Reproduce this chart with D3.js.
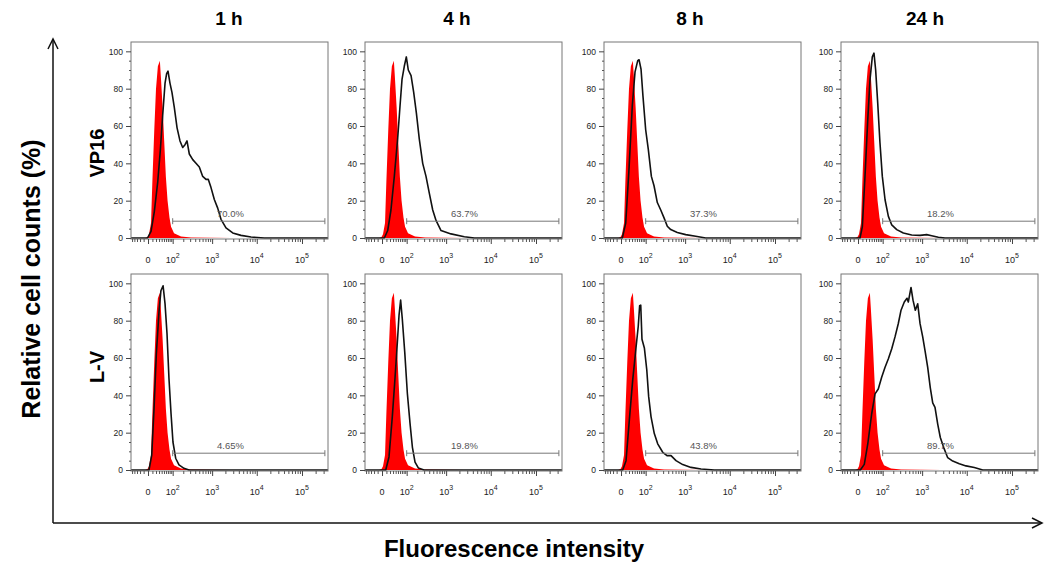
<!DOCTYPE html>
<html>
<head>
<meta charset="utf-8">
<script src="https://d3js.org/d3.v7.min.js"></script>
<style>
body { margin: 0; background: #fff; }
svg { font-family: Arial, "Liberation Sans", sans-serif; }
</style>
</head>
<body>
<svg id="drawing_region"></svg>
<script>
// ---- data (x = fluorescence intensity, y = % of max) ----
const times = ['1 h', '4 h', '8 h', '24 h'];
const rows = ['VP16', 'L-V'];
const gateLabels = ['70.0%', '63.7%', '37.3%', '18.2%', '4.65%', '19.8%', '43.8%', '89.7%'];

// untreated control (red filled)
const controlFI  = [-6, -1, 2, 6.6, 10, 15, 20, 26, 33, 37, 44, 51, 59, 68, 79, 89, 110, 174, 316, 942, 2700];
const controlPct = [0, 0.5, 2, 8, 31, 58, 80, 92, 95, 86, 70, 52, 33, 20, 11, 6, 2.5, 0.8, 0.3, 0.2, 0];

const vp16_1h_FI  = [-1, 6.6, 15, 25.5, 34.7, 44.4, 55, 63, 70.5, 82, 95, 112, 135, 163, 193, 222, 250, 286, 348, 418, 502, 604, 722, 817, 942, 1122, 1340, 1592, 2064, 2920, 4473, 7460, 14700];
const vp16_1h_Pct = [0, 3.6, 14, 30, 47, 66, 83, 88, 89.4, 83, 78, 70, 59, 52, 48.5, 50, 52, 45, 42, 40, 38, 33, 31.4, 31.4, 27, 20.6, 16, 10, 5.4, 2.7, 1.4, 0.5, 0];

const vp16_4h_FI  = [5, 13.4, 23, 34.7, 49, 60, 70.5, 84, 97.5, 112, 135, 160, 189, 226, 276, 334, 402, 486, 582, 762, 1292, 2580, 4310];
const vp16_4h_Pct = [0, 4, 15, 33, 54, 71, 85, 92, 97, 90, 87, 78, 67, 53, 40, 33, 24, 15, 9.4, 4, 2.2, 0.7, 0];

const vp16_8h_FI  = [2.7, 10.8, 20, 31, 41.5, 53.5, 60, 70.5, 82, 100, 120, 147, 174, 213, 261, 316, 380, 460, 659, 1031, 1740, 2920];
const vp16_8h_Pct = [0, 8, 37, 71, 89, 95, 95.5, 90.5, 76, 58, 47.5, 33, 28, 19, 15, 10.8, 6.3, 4.5, 3, 1.8, 0.9, 0];

const vp16_24h_FI  = [4.2, 9.8, 17, 25.5, 33.6, 42.7, 50, 58, 69, 82, 97.5, 118, 147, 182, 246, 360, 572, 894, 1272, 1652, 2330, 3290];
const vp16_24h_Pct = [0, 6, 33, 63, 85, 97, 99, 90, 72, 51, 33, 20.5, 11.6, 7, 4.5, 2.7, 1.6, 1.4, 1.8, 1.2, 0.4, 0];

const lv_1h_FI  = [2, 8.3, 14.3, 21, 30, 37, 46, 55, 65, 76, 89, 102, 123, 153, 209, 281];
const lv_1h_Pct = [0, 8, 33, 62, 85, 96, 98.7, 89, 73, 49, 30, 15, 6.3, 2.7, 0.9, 0];

const lv_4h_FI  = [8.3, 17, 27.5, 37, 47, 55, 63, 72, 87, 105, 126, 147, 174, 213, 298];
const lv_4h_Pct = [0, 7, 28.6, 48.5, 68, 83, 91, 81, 63, 41, 25, 12.3, 4.2, 1.1, 0];

const lv_8h_FI  = [3.6, 11.6, 21, 32.5, 46, 56, 63, 69, 76, 91, 108, 123, 144, 177, 218, 293, 374, 468, 614, 880, 1362, 2292, 4540];
const lv_8h_Pct = [0, 5, 26.7, 48.3, 66, 77, 88, 88.3, 70, 65.4, 53.7, 39.3, 28.5, 19.5, 14, 9.5, 7.7, 7.7, 5, 2.9, 1.4, 0.5, 0];

const lv_24h_FI  = [5, 15, 25.5, 40, 55, 72, 93, 118, 147, 182, 222, 270, 316, 380, 442, 475, 551, 614, 696, 791, 894, 1031, 1164, 1340, 1535, 1740, 1960, 2255, 2580, 3075, 3775, 4880, 6835, 9630, 14700, 22550];
const lv_24h_Pct = [0, 3, 13.8, 30, 40.8, 43.4, 49.7, 55, 59.6, 65, 71.3, 78.5, 85.6, 90, 92, 90, 97.8, 91, 85.6, 89, 78.5, 71.3, 64, 55, 44, 36, 33.6, 24.6, 17.4, 12, 6.6, 4.8, 3.4, 2.2, 1.3, 0];

const sampleFI  = [vp16_1h_FI, vp16_4h_FI, vp16_8h_FI, vp16_24h_FI, lv_1h_FI, lv_4h_FI, lv_8h_FI, lv_24h_FI];
const samplePct = [vp16_1h_Pct, vp16_4h_Pct, vp16_8h_Pct, vp16_24h_Pct, lv_1h_Pct, lv_4h_Pct, lv_8h_Pct, lv_24h_Pct];

const xMajor = [0, 100, 1000, 10000, 100000];
const yMajor = [0, 20, 40, 60, 80, 100];

// ---- layout ----
const W = 1046, H = 566;
const colLeft = [131, 365, 604, 841];
const rowTop = [42, 274];
const rowLabelY = [153, 367];
const titleX = [229, 457, 690, 925];
const panelW = 197, panelH = 197;

const svg = d3.select('#drawing_region').attr('width', W).attr('height', H);

class FlowPanel {
    constructor( config, control, sample, gate ) {
        this.config = config;
        this.control = control;
        this.sample = sample;
        this.gate = gate;
        this.init();
    }

    init() {
        let self = this;
        self.g = svg.append('g')
            .attr('transform', `translate(${self.config.left}, ${self.config.top})`);

        self.xscale = d3.scaleSymlog().constant(40)
            .domain([-55, 375000]).range([0, panelW]);
        self.yscale = d3.scaleLinear()
            .domain([0, 105]).range([panelH - 1, 0]);

        self.g.append('clipPath').attr('id', 'clip' + self.config.id)
            .append('rect').attr('width', panelW).attr('height', panelH);
        self.plot = self.g.append('g').attr('clip-path', `url(#clip${self.config.id})`);
    }

    render() {
        let self = this;
        const x = self.xscale, y = self.yscale;
        const d0 = x.domain();

        // red control
        self.plot.append('path')
            .datum(self.control)
            .attr('fill', '#ff0000')
            .attr('d', d3.area().x(d => x(d[0])).y0(y(0)).y1(d => y(d[1])));

        // black sample line, resting on the baseline across the whole range
        const pts = [[d0[0], 0]].concat(self.sample, [[d0[1], 0]]);
        self.plot.append('path')
            .datum(pts)
            .attr('fill', 'none')
            .attr('stroke', '#111')
            .attr('stroke-width', 1.6)
            .attr('stroke-linejoin', 'round')
            .attr('d', d3.line().x(d => x(d[0])).y(d => y(d[1])));

        // frame
        self.g.append('rect')
            .attr('width', panelW).attr('height', panelH)
            .attr('fill', 'none').attr('stroke', '#777').attr('stroke-width', 1);

        // y axis
        const yMinor = d3.range(0, 101, 5).filter(v => v % 20 !== 0);
        self.g.append('g').call(d3.axisLeft(y).tickValues(yMinor).tickSize(2).tickFormat(''))
            .call(g => g.select('.domain').remove())
            .selectAll('line').attr('stroke', '#555');
        const ya = self.g.append('g').call(d3.axisLeft(y).tickValues(yMajor).tickSize(5).tickPadding(3))
            .call(g => g.select('.domain').remove());
        ya.selectAll('line').attr('stroke', '#444');
        ya.selectAll('text').attr('font-size', 8.5).attr('fill', '#222')
            .attr('font-family', 'Arial, "Liberation Sans", sans-serif');

        // x axis (biexponential display)
        let xMinor = [-50, -40, -30, -20, -10];
        for (let v = 10; v < 100; v += 10) xMinor.push(v);
        [100, 1000, 10000, 100000].forEach(dec => {
            for (let m = 2; m <= 9; m++) if (dec * m < d0[1]) xMinor.push(dec * m);
        });
        self.g.append('g').attr('transform', `translate(0, ${panelH})`)
            .call(d3.axisBottom(x).tickValues(xMinor).tickSize(3).tickFormat(''))
            .call(g => g.select('.domain').remove())
            .selectAll('line').attr('stroke', '#555');
        self.g.append('g').attr('transform', `translate(0, ${panelH})`)
            .call(d3.axisBottom(x).tickValues(xMajor).tickSize(5).tickFormat(''))
            .call(g => g.select('.domain').remove())
            .selectAll('line').attr('stroke', '#444');

        const lab = self.g.selectAll('.xlab').data(xMajor).enter()
            .append('text')
            .attr('class', 'xlab')
            .attr('x', d => x(d))
            .attr('y', panelH + 24)
            .attr('text-anchor', 'middle')
            .attr('font-size', 9)
            .attr('fill', '#222');
        lab.append('tspan').text(d => d === 0 ? '0' : '10');
        lab.filter(d => d > 0).append('tspan')
            .attr('dy', -5).attr('font-size', 7)
            .text(d => Math.round(Math.log10(d)));

        // gate bar
        const gy = y(9), gx1 = x(100), gx2 = x(320000);
        const gate = self.g.append('g').attr('stroke', '#777').attr('stroke-width', 1);
        gate.append('line').attr('x1', gx1).attr('x2', gx2).attr('y1', gy).attr('y2', gy);
        gate.append('line').attr('x1', gx1).attr('x2', gx1).attr('y1', gy - 3).attr('y2', gy + 3);
        gate.append('line').attr('x1', gx2).attr('x2', gx2).attr('y1', gy - 3).attr('y2', gy + 3);
        self.g.append('text')
            .attr('x', x(2600)).attr('y', gy - 4)
            .attr('text-anchor', 'middle')
            .attr('font-size', 9.5).attr('fill', '#555')
            .text(self.gate);
    }
}

const controlPts = controlFI.map((v, i) => [v, controlPct[i]]);

rows.forEach((r, ri) => {
    times.forEach((t, ci) => {
        const k = ri * 4 + ci;
        const pts = sampleFI[k].map((v, i) => [v, samplePct[k][i]]);
        const p = new FlowPanel({ id: k, left: colLeft[ci], top: rowTop[ri] }, controlPts, pts, gateLabels[k]);
        p.render();
    });
});

// column titles
svg.selectAll('.title').data(times).enter()
    .append('text')
    .attr('x', (d, i) => titleX[i]).attr('y', 25)
    .attr('text-anchor', 'middle')
    .attr('font-size', 19).attr('font-weight', 'bold')
    .text(d => d);

// row labels
svg.selectAll('.rowlab').data(rows).enter()
    .append('text')
    .attr('transform', (d, i) => `translate(104, ${rowLabelY[i]}) rotate(-90)`)
    .attr('text-anchor', 'middle')
    .attr('font-size', 20).attr('font-weight', 'bold')
    .text(d => d);

// big axes with arrows
const ax = svg.append('g').attr('stroke', '#111').attr('stroke-width', 1.5).attr('fill', 'none');
ax.append('path').attr('d', 'M53,523 V39');
ax.append('path').attr('d', 'M48,49 L53,39 L58,49');
ax.append('path').attr('d', 'M53,523 H1042');
ax.append('path').attr('d', 'M1032,518 L1042,523 L1032,528');

svg.append('text')
    .attr('transform', `translate(40, 279) rotate(-90)`)
    .attr('text-anchor', 'middle')
    .attr('font-size', 25).attr('font-weight', 'bold')
    .text('Relative cell counts (%)');

svg.append('text')
    .attr('x', 514).attr('y', 557)
    .attr('text-anchor', 'middle')
    .attr('font-size', 24).attr('font-weight', 'bold')
    .text('Fluorescence intensity');
</script>
</body>
</html>
